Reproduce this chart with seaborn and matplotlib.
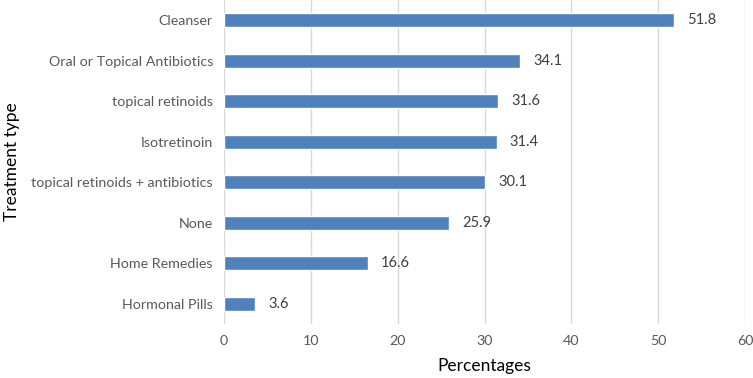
import matplotlib
matplotlib.use("Agg")
import matplotlib.pyplot as plt
import seaborn as sns
import pandas as pd

treatments = ["Cleanser", "Oral or Topical Antibiotics", "topical retinoids", "Isotretinoin",
              "topical retinoids + antibiotics", "None", "Home Remedies", "Hormonal Pills"]
percentages = [51.8, 34.1, 31.6, 31.4, 30.1, 25.9, 16.6, 3.6]

df = pd.DataFrame({"treatment": treatments, "pct": percentages})

sns.set_style("white")
plt.rcParams['font.family'] = ['Lato', 'DejaVu Sans']

fig = plt.figure(figsize=(7.53, 3.78), dpi=100)
ax = fig.add_axes([0.2975, 0.143, 0.692, 0.857])

sns.barplot(data=df, x="pct", y="treatment", color="#4f81bd", saturation=1, width=0.35, ax=ax)

for i, v in enumerate(percentages):
    ax.text(v + 1.5, i, f"{v}", va="center", ha="left", fontsize=10.5, color="#404040")

ax.set_xlim(0, 60)
ax.set_ylim(7.5, -0.5)
ax.set_xticks(range(0, 61, 10))
ax.grid(axis="x", color="#d9d9d9", linewidth=1)
ax.set_axisbelow(True)
for s in ax.spines.values():
    s.set_visible(False)
ax.tick_params(axis="both", length=0, labelsize=10.3, colors="#595959", pad=8)
ax.set_xlabel("Percentages", fontsize=12.5, color="#000000", labelpad=8)
ax.set_ylabel("Treatment type", fontsize=12.5, color="#000000", labelpad=8)

fig.savefig("out.png", dpi=100)
